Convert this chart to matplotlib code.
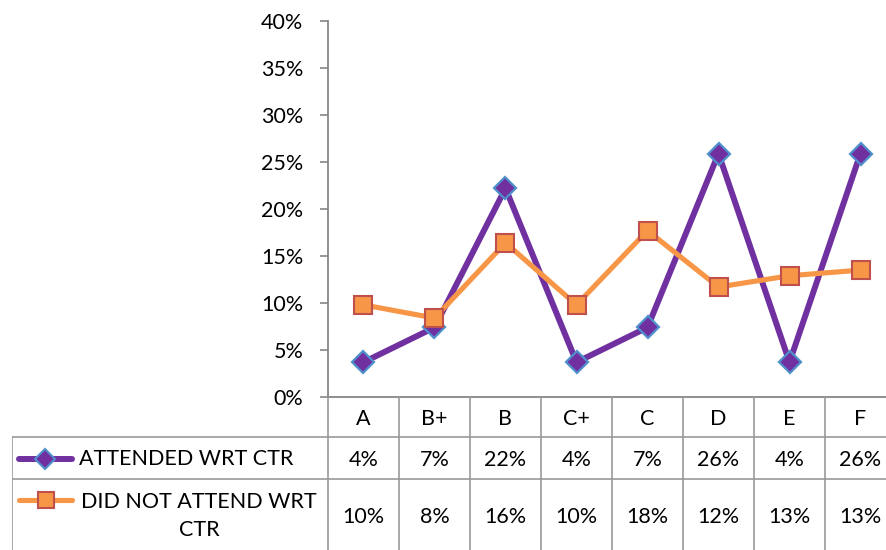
import matplotlib
matplotlib.use("Agg")
import matplotlib.pyplot as plt

categories = ["A", "B+", "B", "C+", "C", "D", "E", "F"]
attended = [3.7, 7.4, 22.2, 3.7, 7.4, 25.9, 3.7, 25.9]
not_attended = [9.8, 8.4, 16.4, 9.8, 17.7, 11.7, 12.9, 13.5]
attended_labels = ["4%", "7%", "22%", "4%", "7%", "26%", "4%", "26%"]
not_attended_labels = ["10%", "8%", "16%", "10%", "18%", "12%", "13%", "13%"]
yticks = [0, 5, 10, 15, 20, 25, 30, 35, 40]
series_names = ["ATTENDED WRT CTR", "DID NOT ATTEND WRT\nCTR"]

plt.rcParams['font.family'] = ['Lato', 'DejaVu Sans']
FS = 15.5
W, H = 887, 550
fig = plt.figure(figsize=(W / 100, H / 100), dpi=100)

ax_l, ax_r, ax_t, ax_b = 328, 896, 21, 397
ax = fig.add_axes([ax_l / W, 1 - ax_b / H, (ax_r - ax_l) / W, (ax_b - ax_t) / H])
x = list(range(len(categories)))
purple, purple_edge = "#7030A0", "#4F8FCB"
orange, orange_edge = "#F79646", "#C0504D"
ax.plot(x, attended, color=purple, lw=4.3, marker="D", ms=11, mfc=purple,
        mec=purple_edge, mew=1.6, zorder=3)
ax.plot(x, not_attended, color=orange, lw=3.7, marker="s", ms=12.5, mfc=orange,
        mec=orange_edge, mew=1.5, zorder=4)
ax.set_xlim(-0.5, len(categories) - 0.5)
ax.set_ylim(0, 40)
ax.set_yticks(yticks)
ax.set_yticklabels([f"{v}%" for v in yticks], fontsize=FS)
ax.set_xticks([])
ax.tick_params(axis="y", length=5.8, width=1.2, color="#868686", pad=12)
for s in ["top", "right"]:
    ax.spines[s].set_visible(False)
ax.spines["left"].set_color("#868686")
ax.spines["left"].set_linewidth(1.3)
ax.spines["bottom"].set_color("#868686")
ax.spines["bottom"].set_linewidth(1.3)
ax.patch.set_alpha(0)

# data table
tl, tt, tb = 12, 397, 550
unit = (ax_r - ax_l) / len(categories)
left_units = (ax_l - tl) / unit
tab = fig.add_axes([tl / W, 0, (ax_r - tl) / W, (tb - tt) / H])
tab.set_xlim(-0.5 - left_units, len(categories) - 0.5)
tab.set_ylim(tb, tt)
tab.axis("off")
gc = "#9A9A9A"
r1, r2 = 437, 479
tab.plot([-0.5 - left_units, len(categories) - 0.5], [r1, r1], color=gc, lw=1.2)
tab.plot([-0.5 - left_units, len(categories) - 0.5], [r2, r2], color=gc, lw=1.2)
for i in range(len(categories) + 1):
    tab.plot([i - 0.5, i - 0.5], [tt, tb], color=gc, lw=1.2)
tab.plot([-0.5 - left_units, -0.5 - left_units], [r1, tb], color=gc, lw=1.2)

for i, c in enumerate(categories):
    tab.text(i, 419, c, ha="center", va="center", fontsize=FS)
    tab.text(i, 460, attended_labels[i], ha="center", va="center", fontsize=FS)
    tab.text(i, 517, not_attended_labels[i], ha="center", va="center", fontsize=FS)

def px2u(px):
    return (px - tl) / unit - 0.5 - left_units

tab.plot([px2u(19), px2u(72)], [459, 459], color=purple, lw=4.3, solid_capstyle="round")
tab.plot([px2u(45)], [459], marker="D", ms=10, mfc=purple, mec=purple_edge, mew=1.5)
tab.plot([px2u(19), px2u(72)], [500, 500], color=orange, lw=3.7, solid_capstyle="round")
tab.plot([px2u(46)], [500], marker="s", ms=11.5, mfc=orange, mec=orange_edge, mew=1.5)
tab.text(px2u(79), 459, series_names[0], ha="left", va="center", fontsize=FS)
line_a, line_b = series_names[1].split("\n")
tab.text(px2u(199), 502, line_a, ha="center", va="center", fontsize=FS)
tab.text(px2u(199), 530, line_b, ha="center", va="center", fontsize=FS)

fig.savefig("out.png", dpi=100)
